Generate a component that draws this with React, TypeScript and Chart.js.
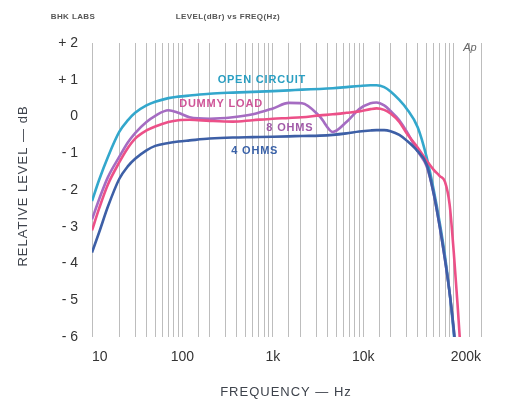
import React, { useEffect, useRef } from "react";
import { Chart, registerables } from "chart.js";

Chart.register(...registerables);

// ---- data ----
const frequencies = [10, 12, 15, 20, 25, 30, 40, 50, 70, 90, 120, 200, 360, 600, 1000, 1500, 2100, 3300, 4600, 6500, 9000, 12000, 14000, 17000, 20000, 25000, 30000, 40000, 50000, 60000, 70000, 80000, 90000, 100000, 110000, 120000];

const openCircuit = [-2.3, -1.72, -1.1, -0.42, -0.1, 0.1, 0.3, 0.4, 0.5, 0.54, 0.57, 0.62, 0.65, 0.67, 0.69, 0.71, 0.73, 0.75, 0.77, 0.8, 0.83, 0.85, 0.85, 0.8, 0.68, 0.45, 0.22, -0.3, -1.1, -2.0, -2.9, -3.8, -4.8, -5.9, -7.0, -8.0];
const dummyLoad = [-2.8, -2.25, -1.65, -1.1, -0.7, -0.45, -0.15, 0.02, 0.17, 0.1, -0.02, -0.06, -0.02, 0.06, 0.22, 0.37, 0.36, 0.0, -0.42, -0.15, 0.2, 0.36, 0.38, 0.3, 0.15, -0.1, -0.4, -0.95, -1.35, -2.1, -3.0, -3.9, -4.8, -5.8, -7.0, -8.0];
const eightOhms = [-3.1, -2.5, -1.85, -1.25, -0.85, -0.6, -0.38, -0.27, -0.15, -0.1, -0.09, -0.12, -0.14, -0.1, -0.06, -0.04, -0.02, 0.03, 0.06, 0.1, 0.14, 0.2, 0.22, 0.18, 0.08, -0.15, -0.45, -0.85, -1.2, -1.45, -1.62, -1.78, -2.4, -3.7, -5.1, -6.5];
const fourOhms = [-3.7, -3.15, -2.45, -1.7, -1.35, -1.15, -0.92, -0.8, -0.72, -0.68, -0.65, -0.6, -0.57, -0.56, -0.55, -0.54, -0.53, -0.52, -0.5, -0.46, -0.41, -0.38, -0.37, -0.37, -0.4, -0.5, -0.65, -0.95, -1.3, -2.1, -3.0, -3.9, -4.8, -5.8, -7.0, -8.0];

const xTickValues = [10, 100, 1000, 10000, 200000];
const xTickLabels = ["10", "100", "1k", "10k", "200k"];
const yTickValues = [2, 1, 0, -1, -2, -3, -4, -5, -6];
const yTickLabels = ["+ 2", "+ 1", "0", "- 1", "- 2", "- 3", "- 4", "- 5", "- 6"];

const curveLabels = ["OPEN CIRCUIT", "DUMMY LOAD", "8 OHMS", "4 OHMS"];
const curveLabelFreqs = [755, 267, 1540, 630];
const curveLabelLevels = [1.0, 0.33, -0.3, -0.93];

const headerLeft = "BHK LABS";
const headerCenter = "LEVEL(dBr) vs FREQ(Hz)";
const yTitle = "RELATIVE LEVEL — dB";
const xTitle = "FREQUENCY — Hz";

// ---- styles ----
const lineColors = { open: "#33a7cc", dummy: "#a56cc2", eight: "#ec5088", four: "#3d5fa6" };
const labelColors = ["#2a9fc2", "#cf5598", "#a05aa8", "#3a62a8"];
const FONT = '"Liberation Sans", Arial, sans-serif';

const textPlugin = {
  id: "texts",
  afterDatasetsDraw(chart: any) {
    const { ctx, scales } = chart;
    const x = scales.x;
    const y = scales.y;
    ctx.save();
    ctx.textAlign = "center";
    ctx.textBaseline = "middle";
    // curve labels
    ctx.font = `bold 11px ${FONT}`;
    (ctx as any).letterSpacing = "0.8px";
    curveLabels.forEach((t, i) => {
      ctx.fillStyle = labelColors[i];
      ctx.fillText(t, x.getPixelForValue(curveLabelFreqs[i]), y.getPixelForValue(curveLabelLevels[i]));
    });
    // header
    ctx.fillStyle = "#555";
    ctx.font = `bold 8px ${FONT}`;
    (ctx as any).letterSpacing = "0.4px";
    ctx.fillText(headerLeft, 73, 17);
    ctx.fillText(headerCenter, 228, 17);
    // Ap mark
    ctx.font = `italic 11px ${FONT}`;
    (ctx as any).letterSpacing = "0px";
    ctx.fillStyle = "#666";
    ctx.fillText("Ap", 470, 48);
    // axis titles
    ctx.fillStyle = "#3e434c";
    ctx.font = `13px ${FONT}`;
    (ctx as any).letterSpacing = "1px";
    ctx.fillText(xTitle, 286, 392);
    ctx.save();
    ctx.translate(23, 186);
    ctx.rotate(-Math.PI / 2);
    ctx.fillText(yTitle, 0, 0);
    ctx.restore();
    ctx.restore();
  },
};

export default function App() {
  const ref = useRef<HTMLCanvasElement | null>(null);

  useEffect(() => {
    if (!ref.current) return;
    const mk = (vals: number[]) => frequencies.map((f, i) => ({ x: f, y: vals[i] }));
    const common = {
      pointRadius: 0,
      borderWidth: 2.6,
      tension: 0.4,
      cubicInterpolationMode: "monotone" as const,
      fill: false,
    };
    const chart = new Chart(ref.current, {
      type: "line",
      data: {
        datasets: [
          { label: "4 OHMS", data: mk(fourOhms), borderColor: lineColors.four, ...common },
          { label: "8 OHMS", data: mk(eightOhms), borderColor: lineColors.eight, ...common },
          { label: "DUMMY LOAD", data: mk(dummyLoad), borderColor: lineColors.dummy, ...common },
          { label: "OPEN CIRCUIT", data: mk(openCircuit), borderColor: lineColors.open, ...common },
        ],
      },
      options: {
        animation: false,
        responsive: false,
        devicePixelRatio: 1,
        layout: { padding: { top: 43, right: 27, bottom: 0, left: 0 } },
        plugins: { legend: { display: false }, tooltip: { enabled: false }, title: { display: false } },
        scales: {
          x: {
            type: "logarithmic",
            min: 10,
            max: 200000,
            afterFit: (s: any) => { s.height = 66; },
            grid: { color: "#bdbdbd", lineWidth: 1, drawTicks: false },
            border: { display: false },
            ticks: {
              autoSkip: false,
              maxRotation: 0,
              minRotation: 0,
              align: "inner",
              padding: 12,
              color: "#333",
              font: { family: FONT, size: 14 },
              callback: (v: any) => {
                const idx = xTickValues.indexOf(Number(v));
                return idx >= 0 ? xTickLabels[idx] : "";
              },
            },
          },
          y: {
            type: "linear",
            min: -6,
            max: 2,
            afterFit: (s: any) => { s.width = 92; },
            grid: { display: false, drawTicks: false },
            border: { display: false },
            ticks: {
              stepSize: 1,
              padding: 14,
              color: "#333",
              font: { family: FONT, size: 14 },
              callback: (v: any) => {
                const idx = yTickValues.indexOf(Number(v));
                return idx >= 0 ? yTickLabels[idx] : "";
              },
            },
          },
        },
      },
      plugins: [textPlugin],
    });
    return () => chart.destroy();
  }, []);

  return (
    <div style={{ position: "absolute", left: 0, top: 0, width: 508, height: 403, background: "#fff" }}>
      <canvas ref={ref} width={508} height={403} style={{ width: 508, height: 403, display: "block" }} />
    </div>
  );
}
